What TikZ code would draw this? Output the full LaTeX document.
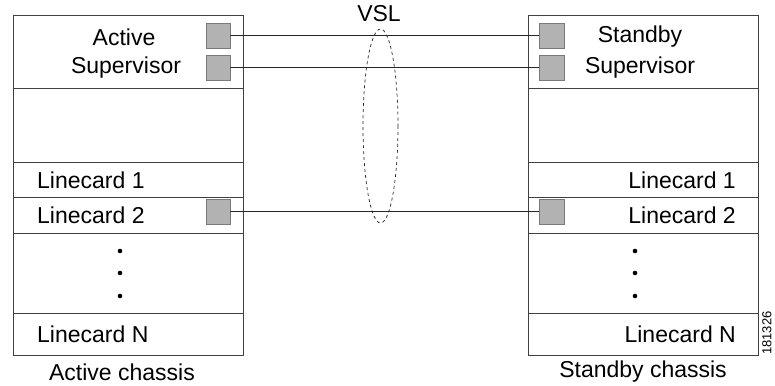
\documentclass[tikz,border=0pt]{standalone}
\usepackage{fontspec}
\setmainfont{Liberation Sans}
\usepackage{xcolor}
\usepackage{tikz}
\usetikzlibrary{shapes,positioning,calc}
\definecolor{portgray}{gray}{0.70}
\definecolor{edgegray}{gray}{0.25}

\begin{document}
\begin{tikzpicture}[x=1pt,y=-1pt,
	port/.style={draw=edgegray!70,fill=portgray,minimum size=24.5pt,inner sep=0pt},
	lbl/.style={font=\fontsize{23}{26}\selectfont,inner sep=0pt},
	link/.style={draw=black!85,line width=0.9pt}]
		\useasboundingbox (0,0) rectangle (775,385);
		% active chassis
		\draw[edgegray,line width=0.9pt] (13,15) rectangle (243,355);
		\draw[edgegray,line width=0.9pt] (13,88)--(243,88);
		\draw[edgegray,line width=0.9pt] (13,162)--(243,162);
		\draw[edgegray,line width=0.9pt] (13,197)--(243,197);
		\draw[edgegray,line width=0.9pt] (13,233)--(243,233);
		\draw[edgegray,line width=0.9pt] (13,313)--(243,313);
		% standby chassis
		\draw[edgegray,line width=0.9pt] (528,15) rectangle (758,355);
		\draw[edgegray,line width=0.9pt] (528,88)--(758,88);
		\draw[edgegray,line width=0.9pt] (528,162)--(758,162);
		\draw[edgegray,line width=0.9pt] (528,197)--(758,197);
		\draw[edgegray,line width=0.9pt] (528,233)--(758,233);
		\draw[edgegray,line width=0.9pt] (528,313)--(758,313);
		% ports
		\node[port] (asup1) at (218,35.5) {};
		\node[port] (asup2) at (218,67.5) {};
		\node[port] (alc2) at (218,211.5) {};
		\node[port] (ssup1) at (551.5,35.5) {};
		\node[port] (ssup2) at (551.5,67.5) {};
		\node[port] (slc2) at (551.5,211.5) {};
		% links
		\draw[link] (asup1.east)--(ssup1.west);
		\draw[link] (asup2.east)--(ssup2.west);
		\draw[link] (alc2.east)--(slc2.west);
		\draw[dashed,black!85,line width=0.7pt] (380.5,126) ellipse (17.5 and 97);
		\node[lbl] (vsl) at (379,14) {VSL};
		% labels active
		\node[lbl] (atxt1) at (124,37) {Active};
		\node[lbl] (atxt2) at (126,68) {Supervisor};
		\node[lbl,anchor=west] (alctxt1) at (37,180) {Linecard 1};
		\node[lbl,anchor=west] (alctxt2) at (37,215.5) {Linecard 2};
		\node[lbl,anchor=west] (alctxtn) at (37,334) {Linecard N};
		\node[lbl] (achassis) at (122,372) {Active chassis};
		% labels standby
		\node[lbl] (stxt1) at (640,37) {Standby};
		\node[lbl] (stxt2) at (640,68) {Supervisor};
		\node[lbl,anchor=east] (slctxt1) at (736,180) {Linecard 1};
		\node[lbl,anchor=east] (slctxt2) at (736,215.5) {Linecard 2};
		\node[lbl,anchor=east] (slctxtn) at (736,334) {Linecard N};
		\node[lbl] (schassis) at (643,372) {Standby chassis};
		% dots
		\foreach \y in {251,273,296} {
			\fill (120,\y) circle (2.3pt);
			\fill (635,\y) circle (2.3pt);
		}
		\node[font=\fontsize{13}{15}\selectfont,rotate=90,inner sep=0pt] (figid) at (767,333) {181326};
	\end{tikzpicture}
\end{document}
